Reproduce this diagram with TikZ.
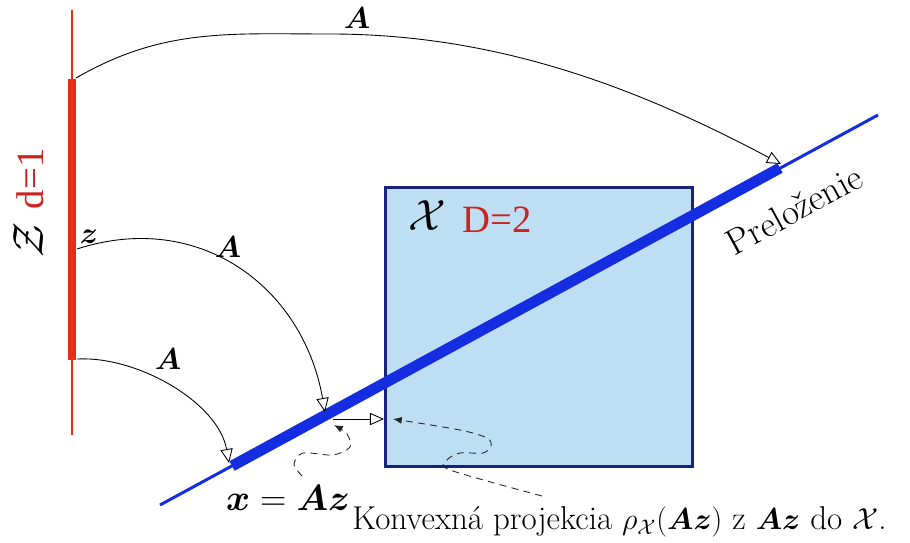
\documentclass[tikz,border=0pt]{standalone}
\usepackage{fontspec}
\usepackage{amsmath, amssymb, bm}
\usetikzlibrary{arrows.meta, positioning, calc}
\newfontfamily\timesfont{Liberation Serif}
\definecolor{themeRed}{RGB}{232, 45, 25}
\definecolor{textRed}{RGB}{205, 35, 30}
\definecolor{themeBlue}{RGB}{20, 45, 225}
\definecolor{boxBlue}{RGB}{190, 222, 244}
\definecolor{boxEdge}{RGB}{25, 35, 125}
\newcommand{\dimFont}{\fontsize{22}{26}\selectfont\timesfont\color{textRed}}
\tikzset{
    % 映射弧线
    mapArc/.style={
        draw=black, line width=0.5pt,
        -{Triangle[open, length=8pt, width=7pt]}
    },
    %
    % 虚线指引
    hint/.style={
        draw=black!85, line width=0.5pt, dash pattern=on 4pt off 3pt,
        -{Latex[length=5pt, width=4pt]}
    },
    %
    % 直线
    redThin/.style={draw=themeRed, line width=1.1pt},
    redThick/.style={draw=themeRed, line width=4.5pt},
    blueThin/.style={draw=themeBlue, line width=1.7pt},
    blueThick/.style={draw=themeBlue, line width=6.2pt},
    %
    % 集合方框
    setBox/.style={
        rectangle, draw=boxEdge, fill=boxBlue, line width=1.7pt,
        minimum width=6.16cm, minimum height=5.6cm
    },
    dimText/.style={font=\dimFont, inner sep=0pt},
    mapLabel/.style={font=\fontsize{19}{23}\selectfont, inner sep=1pt}
}

\begin{document}
\begin{tikzpicture}[x=0.02cm, y=0.02cm]
	\useasboundingbox (0,0) rectangle (910,542);

	%% 集合 X
	\node (sq) [setBox] at (539,215) {};
	\node (xname) [font=\Huge, inner sep=0pt] at (427,326) {$\mathcal{X}$};
	\node (dimD) [dimText, anchor=west] at (462,322) {D=2};

	%% 直线 Z 与 嵌入
	\coordinate (zTop) at (72,532);
	\coordinate (zBot) at (72,107);
	\coordinate (zA) at (72,463);
	\coordinate (zB) at (72,182);
	\draw[redThin] (zTop) -- (zBot);
	\draw[redThick] (zA) -- (zB);

	\coordinate (lineA) at (160,37);
	\coordinate (lineB) at (878,427);
	\coordinate (thickA) at (232,76);
	\coordinate (thickB) at (780,374);
	\draw[blueThin] (lineA) -- (lineB);
	\draw[blueThick] (thickA) -- (thickB);

	%% 标签
	\node (zname) [rotate=90] at (29,339) {\Huge$\mathcal{Z}$\ {\dimFont d=1}};
	\node (zlab) [mapLabel] at (89,305) {$\bm{z}$};
	\node (fold) [rotate=28.5, font=\huge] at (794,332) {Preloženie};
	\node (xlab) [font=\fontsize{19.5}{24}\selectfont] at (288,44) {$\bm{x} = \bm{A}\bm{z}$};
	\node (projText) [font=\fontsize{18.8}{23}\selectfont, anchor=west, inner sep=0pt] at (352,20)
	{Konvexná projekcia $\rho_{\mathcal{X}}(\bm{A}\bm{z})$ z $\bm{A}\bm{z}$ do $\mathcal{X}$.};

	%% 映射 A
	\coordinate (arcT) at (76,464);
	\coordinate (peakT) at (330,508);
	\coordinate (tipT) at (781,378);
	\coordinate (arcM) at (77,293);
	\coordinate (tipM) at (325,130);
	\coordinate (arcB) at (77,183);
	\coordinate (tipB) at (229,79);

	\draw[mapArc] (arcT) to [out=30, in=180] (peakT) to [out=0, in=152, looseness=0.9] (tipT);
	\draw[mapArc] (arcM) to [out=18, in=100, looseness=1.1] (tipM);
	\draw[mapArc] (arcB) to [out=3, in=100, looseness=0.85] (tipB);
	\node (topA) [mapLabel] at (357,524) {$\bm{A}$};
	\node (midA) [mapLabel] at (228,295) {$\bm{A}$};
	\node (botA) [mapLabel] at (168,183) {$\bm{A}$};

	% 投影 x -> 方框
	\coordinate (xOff) at (333,123);
	\coordinate (proj) at (384,123);
	\draw[mapArc] (xOff) -- (proj);

	% 虚线指引
	\draw[hint] plot [smooth] coordinates {(302,66) (294,78) (303,89) (333,87) (350,95) (347,108) (334,117)};
	\draw[hint] plot [smooth] coordinates {(542,46) (450,72) (447,82) (460,89) (483,89) (491,96) (487,104) (460,112) (393,123)};

\end{tikzpicture}
\end{document}
